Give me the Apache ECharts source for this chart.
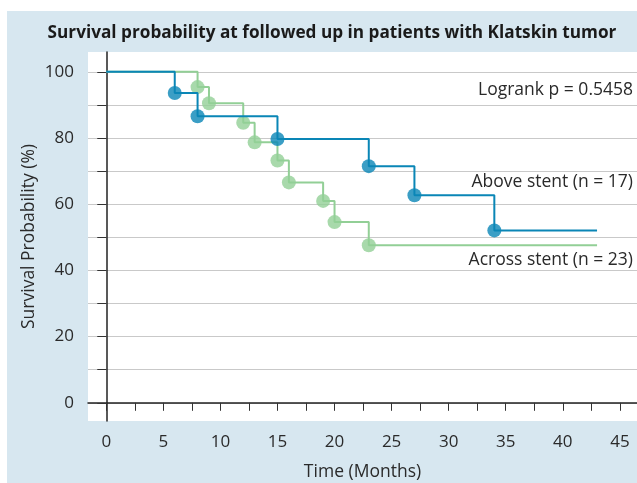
<!DOCTYPE html>
<html><head><meta charset="utf-8">
<script src="https://cdn.jsdelivr.net/npm/echarts@6/dist/echarts.min.js"></script>
<style>html,body{margin:0;padding:0;background:#fff}#c{width:637px;height:483px}</style>
</head><body><div id="c"></div>
<script>
const titleText = 'Survival probability at followed up in patients with Klatskin tumor';
const xTickValues = [0,2.5,5,7.5,10,12.5,15,17.5,20,22.5,25,27.5,30,32.5,35,37.5,40,42.5,45];
const xLabelValues = [0,5,10,15,20,25,30,35,40,45];
const yTickValues = [0,10,20,30,40,50,60,70,80,90,100];
const yLabelValues = [0,20,40,60,80,100];
const aboveName = 'Above stent (n = 17)';
const aboveTimes = [0,6,8,15,23,27,34,43];
const aboveSurv  = [100,93.6,86.6,79.7,71.5,62.7,52.1,52.1];
const acrossName = 'Across stent (n = 23)';
const acrossTimes = [0,8,9,12,13,15,16,19,20,23,43];
const acrossSurv  = [100,95.4,90.5,84.6,78.7,73.2,66.6,61.0,54.6,47.6,47.6];
const logrankText = 'Logrank p = 0.5458';

const BLUE = '#0a86b6', GREEN = '#92cf96';
const FONT = 'Open Sans';
const pairs = (t, s) => t.map((v, i) => [v, s[i]]);
const events = (t, s) => pairs(t, s).slice(1, -1);

const chart = echarts.init(document.getElementById('c'), null, {renderer: 'canvas'});
chart.setOption({
  animation: false,
  backgroundColor: '#ffffff',
  graphic: [
    {type: 'rect', shape: {x: 7, y: 11, width: 630, height: 472}, style: {fill: '#d7e7f0'}, z: -10, silent: true},
    {type: 'text', right: 4, top: 81, style: {text: logrankText, font: '17.5px "Open Sans"', fill: '#2a2a2a'}, z: 10},
    {type: 'text', right: 4, top: 173, style: {text: aboveName, font: '17.5px "Open Sans"', fill: '#2a2a2a'}, z: 10},
    {type: 'text', right: 4, top: 251, style: {text: acrossName, font: '17.5px "Open Sans"', fill: '#2a2a2a'}, z: 10}
  ],
  title: {
    text: titleText, left: 327, top: 20, textAlign: 'center',
    textStyle: {fontFamily: FONT, fontSize: 17.2, fontWeight: 'bold', color: '#1a1a1a'}
  },
  grid: {left: 88, right: 0, top: 52, bottom: 62, show: true, backgroundColor: '#ffffff', borderWidth: 0,
         containLabel: false, outerBoundsMode: 'none'},
  xAxis: {
    type: 'value', min: -1.6, max: 46.5,
    name: 'Time (Months)', nameLocation: 'middle', nameGap: 42, nameMoveOverlap: false,
    nameTextStyle: {fontFamily: FONT, fontSize: 17.5, color: '#2a2a2a'},
    axisLine: {show: true, lineStyle: {color: '#222', width: 1.5}},
    axisTick: {show: true, customValues: xTickValues, length: 8, lineStyle: {color: '#333', width: 1}},
    axisLabel: {customValues: xLabelValues, fontFamily: FONT, fontSize: 17, color: '#2a2a2a', margin: 13},
    splitLine: {show: false}
  },
  yAxis: {
    type: 'value', min: -5.5, max: 106,
    name: 'Survival Probability (%)', nameLocation: 'middle', nameGap: 50, nameMoveOverlap: false,
    nameTextStyle: {fontFamily: FONT, fontSize: 17.5, color: '#2a2a2a'},
    axisLine: {show: true, lineStyle: {color: '#222', width: 1.5}},
    axisTick: {show: true, customValues: yTickValues, length: 9, lineStyle: {color: '#333', width: 1}},
    axisLabel: {customValues: yLabelValues, fontFamily: FONT, fontSize: 17, color: '#2a2a2a', margin: 14},
    splitLine: {show: true, lineStyle: {color: '#c9c9c9', width: 1.2}}
  },
  series: [
    {name: acrossName, type: 'line', step: 'end', data: pairs(acrossTimes, acrossSurv), showSymbol: false, symbol: 'none',
     lineStyle: {color: GREEN, width: 2}, z: 2},
    {name: acrossName + ' events', type: 'scatter', data: events(acrossTimes, acrossSurv), symbolSize: 14,
     itemStyle: {color: GREEN}, z: 3},
    {name: aboveName, type: 'line', step: 'end', data: pairs(aboveTimes, aboveSurv), showSymbol: false, symbol: 'none',
     lineStyle: {color: BLUE, width: 2}, z: 4},
    {name: aboveName + ' events', type: 'scatter', data: events(aboveTimes, aboveSurv), symbolSize: 14,
     itemStyle: {color: BLUE}, z: 5}
  ]
});
</script></body></html>
